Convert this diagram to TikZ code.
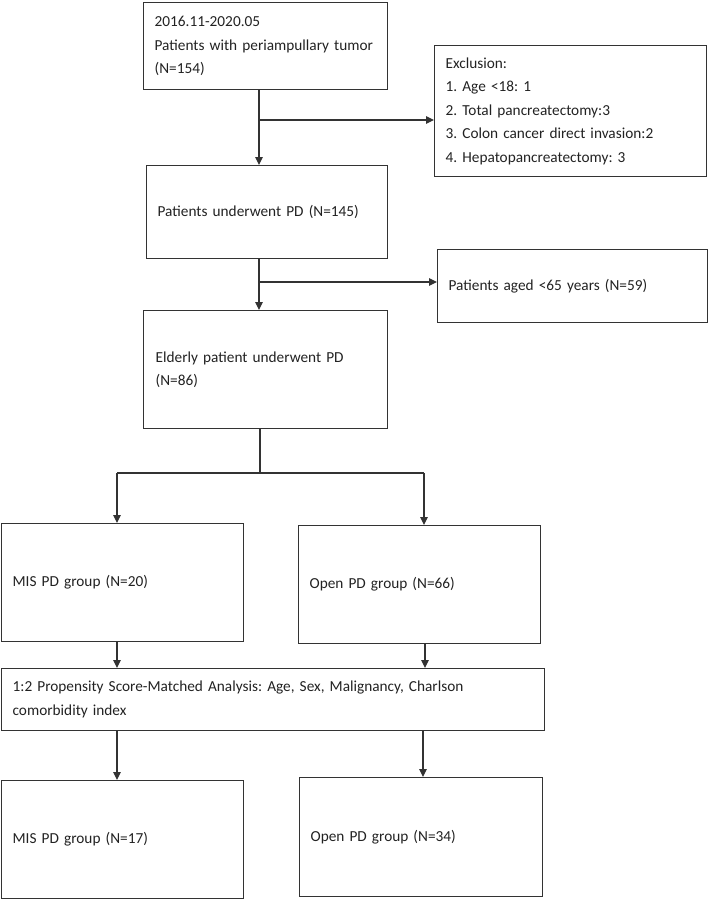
\documentclass[tikz,border=0pt]{standalone}
\usepackage{fontspec}
\setmainfont{Carlito}
\usetikzlibrary{arrows.meta}
\definecolor{ln}{HTML}{333333}
\definecolor{tx}{HTML}{222222}
\tikzset{
  box/.style={draw=ln, line width=1.3pt, rectangle, anchor=north west, align=left,
    inner xsep=11pt, inner ysep=0pt, text=tx,
    font=\fontsize{15.3}{23.5}\selectfont\frenchspacing},
  conn/.style={draw=ln, line width=1.2pt},
  arr/.style={conn, -{Triangle[length=8pt,width=7.5pt]}}
}
\begin{document}
\begin{tikzpicture}[x=1pt,y=-1pt]
\useasboundingbox (0,0) rectangle (710,900);
% boxes
\node[box, text width=222pt, minimum height=87pt] (b1) at (143,2)
  {2016.11-2020.05\\Patients with periampullary tumor\\(N=154)};
\node[box, text width=250pt, minimum height=131pt] (excl) at (434,45)
  {Exclusion:\\1. Age <18: 1\\2. Total pancreatectomy:3\\3. Colon cancer direct invasion:2\\4. Hepatopancreatectomy: 3};
\node[box, text width=219pt, minimum height=93pt] (b2) at (146,165)
  {Patients underwent PD (N=145)};
\node[box, text width=248pt, minimum height=73pt] (young) at (437,249)
  {Patients aged <65 years (N=59)};
\node[box, text width=220pt, minimum height=118pt, inner xsep=12pt] (eld) at (143,310)
  {Elderly patient underwent PD\\(N=86)};
\node[box, text width=220pt, minimum height=118pt] (mis1) at (1,523)
  {MIS PD group (N=20)};
\node[box, text width=220pt, minimum height=118pt] (open1) at (298,525)
  {Open PD group (N=66)};
\node[box, text width=521pt, minimum height=62pt] (psm) at (1,668)
  {1:2 Propensity Score-Matched Analysis: Age, Sex, Malignancy, Charlson\\comorbidity index};
\node[box, text width=220pt, minimum height=118pt] (mis2) at (1,780)
  {MIS PD group (N=17)};
\node[box, text width=221pt, minimum height=119pt] (open2) at (299,777)
  {Open PD group (N=34)};
% junction coordinates
\coordinate (j1) at (259,120);
\coordinate (j2) at (259,282);
\coordinate (j3) at (260,473);
\coordinate (jl) at (117,473);
\coordinate (jr) at (424,473);
\coordinate (cl) at (117,0);
\coordinate (cr) at (425,0);
\coordinate (cr2) at (423,0);
% connectors
\draw[arr] (b1.south -| j1) -- (b2.north -| j1);
\draw[arr] (j1) -- (excl.west |- j1);
\draw[arr] (b2.south -| j2) -- (eld.north -| j2);
\draw[arr] (j2) -- (young.west |- j2);
\draw[conn] (eld.south -| j3) -- (j3);
\draw[conn] (jl) -- (jr);
\draw[arr] (jl) -- (mis1.north -| jl);
\draw[arr] (jr) -- (open1.north -| jr);
\draw[arr] (mis1.south -| cl) -- (psm.north -| cl);
\draw[arr] (open1.south -| cr) -- (psm.north -| cr);
\draw[arr] (psm.south -| cl) -- (mis2.north -| cl);
\draw[arr] (psm.south -| cr2) -- (open2.north -| cr2);
\end{tikzpicture}
\end{document}
